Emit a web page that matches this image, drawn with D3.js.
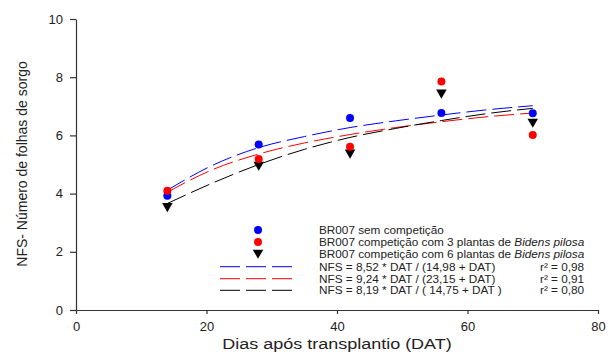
<!DOCTYPE html>
<html>
<head>
<meta charset="utf-8">
<script src="https://cdn.jsdelivr.net/npm/d3@7"></script>
<style>
  body { margin: 0; background: #fff; }
  text { font-family: "Liberation Sans", Arial, sans-serif; }
</style>
</head>
<body>
<script>
// observed days
var days = [14, 28, 42, 56, 70];
// measured leaf numbers
var semComp = [3.93, 5.69, 6.6, 6.77, 6.76];
var comp3 = [4.1, 5.19, 5.61, 7.85, 6.01];
var comp6 = [3.57, 4.99, 5.41, 7.47, 6.47];

// fitted curves
var curveDays = [14, 21, 28, 35, 42, 49, 56, 63, 70];
var fitSem = [4.12, 4.98, 5.58, 5.96, 6.27, 6.5, 6.7, 6.88, 7.02];
var fit3 = [4.05, 4.83, 5.36, 5.74, 6.03, 6.27, 6.47, 6.64, 6.77];
var fit6 = [3.66, 4.37, 5.0, 5.52, 5.93, 6.24, 6.51, 6.75, 6.93];

var xTicks = [0, 20, 40, 60, 80];
var yTicks = [0, 2, 4, 6, 8, 10];

var legendLabels = [
  ["BR007 sem competição", ""],
  ["BR007 competição com 3 plantas de ", "Bidens pilosa"],
  ["BR007 competição com 6 plantas de ", "Bidens pilosa"],
  ["NFS = 8,52 * DAT / (14,98 + DAT)", ""],
  ["NFS = 9,24 * DAT / (23,15 + DAT)", ""],
  ["NFS = 8,19 * DAT / ( 14,75 + DAT )", ""]
];
var r2Labels = ["r² = 0,98", "r² = 0,91", "r² = 0,80"];

var width = 610, height = 358;
var margin = {top: 19, right: 12, bottom: 48, left: 76};

var svg = d3.select("body").append("svg")
    .attr("width", width)
    .attr("height", height);

var x = d3.scaleLinear().domain([0, 80]).range([margin.left, 598]);
var y = d3.scaleLinear().domain([0, 10]).range([310, margin.top]);

// axes
var xAxis = svg.append("g")
    .attr("transform", "translate(0,310)")
    .call(d3.axisBottom(x).tickValues(xTicks).tickSize(4).tickSizeOuter(0).tickPadding(8));
var yAxis = svg.append("g")
    .attr("transform", "translate(" + margin.left + ",0)")
    .call(d3.axisLeft(y).tickValues(yTicks).tickSize(6).tickSizeOuter(0).tickPadding(7));

[xAxis, yAxis].forEach(function(g) {
  g.selectAll("path, line").attr("stroke", "#333").attr("stroke-width", 1.2);
  g.selectAll("text").attr("fill", "#222").style("font-size", "13px")
    .style("font-family", "'Liberation Sans', Arial, sans-serif");
});

// axis titles (reference text is a bit stretched sideways)
svg.append("text")
    .attr("transform", "translate(337,349) scale(1.2,1)")
    .attr("text-anchor", "middle")
    .style("font-size", "15px")
    .attr("fill", "#222")
    .text("Dias após transplantio (DAT)");

svg.append("text")
    .attr("transform", "translate(27,164) rotate(-90)")
    .attr("text-anchor", "middle")
    .style("font-size", "14px")
    .attr("fill", "#222")
    .text("NFS- Número de folhas de sorgo");

// fitted curves
var line = d3.line()
    .x(function(d) { return x(d[0]); })
    .y(function(d) { return y(d[1]); })
    .curve(d3.curveMonotoneX);

var fits = [
  {vals: fitSem, color: "#0000ff"},
  {vals: fit3, color: "#ff0000"},
  {vals: fit6, color: "#000000"}
];

fits.forEach(function(f) {
  svg.append("path")
      .datum(curveDays.map(function(d, i) { return [d, f.vals[i]]; }))
      .attr("d", line)
      .attr("fill", "none")
      .attr("stroke", f.color)
      .attr("stroke-width", 1)
      .attr("stroke-dasharray", "20,6");
});

// points
var tri = d3.symbol().type(d3.symbolTriangle).size(48);

svg.selectAll(".tri")
    .data(comp6)
    .enter().append("path")
      .attr("class", "tri")
      .attr("d", tri)
      .attr("transform", function(d, i) { return "translate(" + x(days[i]) + "," + y(d) + ") rotate(180)"; })
      .attr("fill", "#000");

svg.selectAll(".blue")
    .data(semComp)
    .enter().append("circle")
      .attr("class", "blue")
      .attr("cx", function(d, i) { return x(days[i]); })
      .attr("cy", function(d) { return y(d); })
      .attr("r", 4)
      .attr("fill", "#0000ff");

svg.selectAll(".red")
    .data(comp3)
    .enter().append("circle")
      .attr("class", "red")
      .attr("cx", function(d, i) { return x(days[i]); })
      .attr("cy", function(d) { return y(d); })
      .attr("r", 4)
      .attr("fill", "#ff0000");

// legend
var rowY = [230, 242, 253.7, 266.7, 278.7, 290.3];
var legend = svg.append("g");

legend.append("circle").attr("cx", 258).attr("cy", rowY[0]).attr("r", 4).attr("fill", "#0000ff");
legend.append("circle").attr("cx", 258).attr("cy", rowY[1]).attr("r", 4).attr("fill", "#ff0000");
legend.append("path").attr("d", tri)
    .attr("transform", "translate(258," + (rowY[2] - 1) + ") rotate(180)")
    .attr("fill", "#000");

fits.forEach(function(f, i) {
  legend.append("line")
      .attr("x1", 220).attr("x2", 293)
      .attr("y1", rowY[3 + i]).attr("y2", rowY[3 + i])
      .attr("stroke", f.color)
      .attr("stroke-width", 1)
      .attr("stroke-dasharray", "20,6");
});

legendLabels.forEach(function(l, i) {
  var t = legend.append("text")
      .attr("transform", "translate(319," + (rowY[i] + 4) + ") scale(1.07,1)")
      .style("font-size", "11px")
      .attr("fill", "#222");
  t.append("tspan").text(l[0]);
  if (l[1]) t.append("tspan").style("font-style", "italic").text(l[1]);
});

r2Labels.forEach(function(r, i) {
  legend.append("text")
      .attr("transform", "translate(540," + (rowY[3 + i] + 4) + ") scale(1.07,1)")
      .style("font-size", "11px")
      .attr("fill", "#222")
      .text(r);
});
</script>
</body>
</html>
